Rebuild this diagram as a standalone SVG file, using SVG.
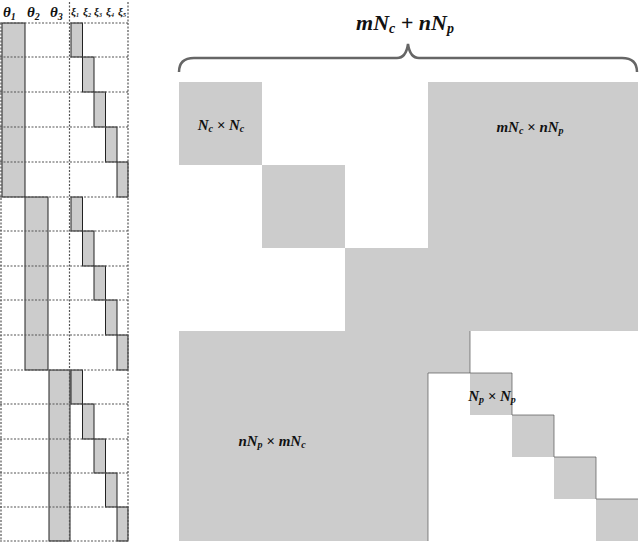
<svg xmlns="http://www.w3.org/2000/svg" width="640" height="542" viewBox="0 0 640 542">
<style>
.g{fill:#cccccc}
.s{fill:#cccccc;stroke:#222;stroke-width:1}
.d{stroke:#555;stroke-width:1.2;stroke-dasharray:2,1.5;fill:none}
.t{font-family:"Liberation Serif",serif;font-style:italic;font-weight:bold;fill:#111}
</style>
<g id="left">
<text class="t" x="3" y="17" font-size="15">θ<tspan font-size="10" dy="3">1</tspan></text>
<text class="t" x="27" y="17" font-size="15">θ<tspan font-size="10" dy="3">2</tspan></text>
<text class="t" x="50" y="17" font-size="15">θ<tspan font-size="10" dy="3">3</tspan></text>
<g class="t" font-size="11">
<text x="71" y="15">ξ<tspan font-size="6" dy="2">1</tspan></text>
<text x="83" y="15">ξ<tspan font-size="6" dy="2">2</tspan></text>
<text x="94" y="15">ξ<tspan font-size="6" dy="2">3</tspan></text>
<text x="106" y="15">ξ<tspan font-size="6" dy="2">4</tspan></text>
<text x="118" y="15">ξ<tspan font-size="6" dy="2">5</tspan></text>
</g>
<rect class="s" x="2" y="23" width="23" height="174"/>
<rect class="s" x="25" y="197" width="23" height="173"/>
<rect class="s" x="49" y="370" width="21" height="171"/>
<g id="xi">
<rect class="s" x="71" y="23" width="11.5" height="34"/>
<rect class="s" x="82.5" y="57" width="11.5" height="35"/>
<rect class="s" x="94" y="92" width="11.5" height="35"/>
<rect class="s" x="105.5" y="127" width="11.5" height="35"/>
<rect class="s" x="117" y="162" width="11" height="35"/>
<rect class="s" x="71" y="197" width="11.5" height="34"/>
<rect class="s" x="82.5" y="231" width="11.5" height="35"/>
<rect class="s" x="94" y="266" width="11.5" height="34"/>
<rect class="s" x="105.5" y="300" width="11.5" height="35"/>
<rect class="s" x="117" y="335" width="11" height="35"/>
<rect class="s" x="71" y="370" width="11.5" height="34"/>
<rect class="s" x="82.5" y="404" width="11.5" height="35"/>
<rect class="s" x="94" y="439" width="11.5" height="34"/>
<rect class="s" x="105.5" y="473" width="11.5" height="34"/>
<rect class="s" x="117" y="507" width="11" height="34"/>
</g>
<path class="d" d="M0 23H129M0 57H129M0 92H129M0 127H129M0 162H129M0 197H129M0 231H129M0 266H129M0 300H129M0 335H129M0 370H129M0 404H129M0 439H129M0 473H129M0 507H129M0 541H129M1 23V541M69.5 2V541M128 2V541"/>
</g>
<g id="matrix">
<rect class="g" x="179" y="82" width="83" height="83"/>
<rect class="g" x="262" y="165" width="83" height="83"/>
<rect class="g" x="345" y="248" width="83" height="83"/>
<rect class="g" x="428" y="82" width="210" height="249"/>
<rect class="g" x="179" y="331" width="291" height="42"/>
<rect class="g" x="179" y="373" width="249" height="168"/>
<rect class="g" x="470" y="373" width="42" height="42"/>
<rect class="g" x="512" y="415" width="42" height="42"/>
<rect class="g" x="554" y="457" width="42" height="42"/>
<rect class="g" x="596" y="499" width="42" height="42"/>
<path d="M470 331V373H512V415H554V457H596V499H638M428 373V541M428 373H470" stroke="#555" stroke-width="0.7" fill="none"/>
<text class="t" x="221" y="130" font-size="15" text-anchor="middle">N<tspan font-size="10" dy="2">c</tspan><tspan dy="-2"> × N</tspan><tspan font-size="10" dy="2">c</tspan></text>
<text class="t" x="530" y="132" font-size="15" text-anchor="middle">mN<tspan font-size="10" dy="2">c</tspan><tspan dy="-2"> × nN</tspan><tspan font-size="10" dy="2">p</tspan></text>
<text class="t" x="492" y="401" font-size="15" text-anchor="middle">N<tspan font-size="10" dy="2">p</tspan><tspan dy="-2"> × N</tspan><tspan font-size="10" dy="2">p</tspan></text>
<text class="t" x="272" y="446" font-size="15" text-anchor="middle">nN<tspan font-size="10" dy="2">p</tspan><tspan dy="-2"> × mN</tspan><tspan font-size="10" dy="2">c</tspan></text>
</g>
<g id="brace">
<path d="M179 72Q179 58 194 58H397Q406 58 408 44Q410 58 419 58H622Q637 58 637 72" stroke="#666" stroke-width="2.5" fill="none"/>
<text class="t" x="405" y="30" font-size="22" text-anchor="middle">mN<tspan font-size="14" dy="3">c</tspan><tspan dy="-3"> + nN</tspan><tspan font-size="14" dy="3">p</tspan></text>
</g>
</svg>
